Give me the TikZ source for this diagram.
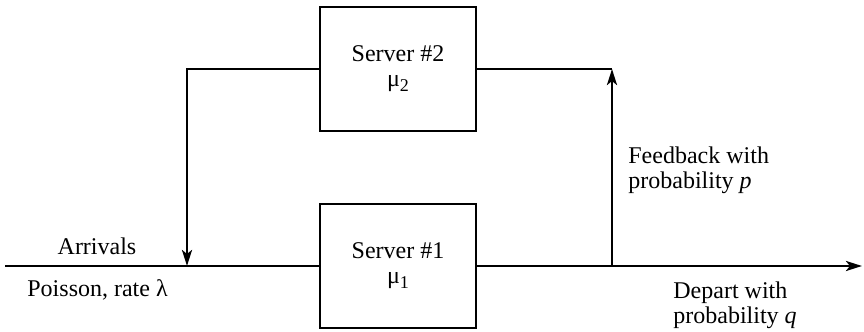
\documentclass[tikz,border=0pt]{standalone}
\usepackage{fontspec}
\setmainfont{Liberation Serif}
\usetikzlibrary{arrows.meta}
\tikzset{
  server/.style={draw, line width=1pt, minimum width=78pt, minimum height=62pt, align=center, inner sep=0pt},
  wire/.style={line width=1.4pt},
  flow/.style={wire, -{Stealth[length=8pt, width=5pt, inset=2pt]}},
  label/.style={inner sep=0pt, align=left}
}
\begin{document}
\begin{tikzpicture}[x=0.5pt, y=0.5pt, font=\fontsize{12}{12.5}\selectfont]
    \useasboundingbox (0,0) rectangle (864,332);

    % Servers
    \node[server] (s1) at (398,66) {Server \#1\\ μ\raisebox{-0.45ex}{\small 1}};
    \node[server] (s2) at (398,263) {Server \#2\\ μ\raisebox{-0.45ex}{\small 2}};

    % Points on the lines
    \coordinate (in) at (5,66);
    \coordinate (out) at (862,66);
    \coordinate (drop) at (187,66);
    \coordinate (split) at (612,66);
    \coordinate (corner) at (612,263);

    % Main line
    \draw[wire] (in) -- (s1.west);
    \draw[flow] (s1.east) -- (out);

    % Feedback loop
    \draw[flow] (split) -- (corner);
    \draw[wire] (corner) -- (s2.east);
    \draw[flow] (s2.west) -| (drop);

    % Labels
    \node[label, anchor=base] (arr) at (97,77) {Arrivals};
    \node[label, anchor=base west] (pois) at (27,35) {Poisson, rate λ};
    \node[label, anchor=north west] (fb) at (628,186) {Feedback with\\ probability \textit{p}};
    \node[label, anchor=north west] (dep) at (673,51) {Depart with\\ probability \textit{q}};
\end{tikzpicture}
\end{document}
